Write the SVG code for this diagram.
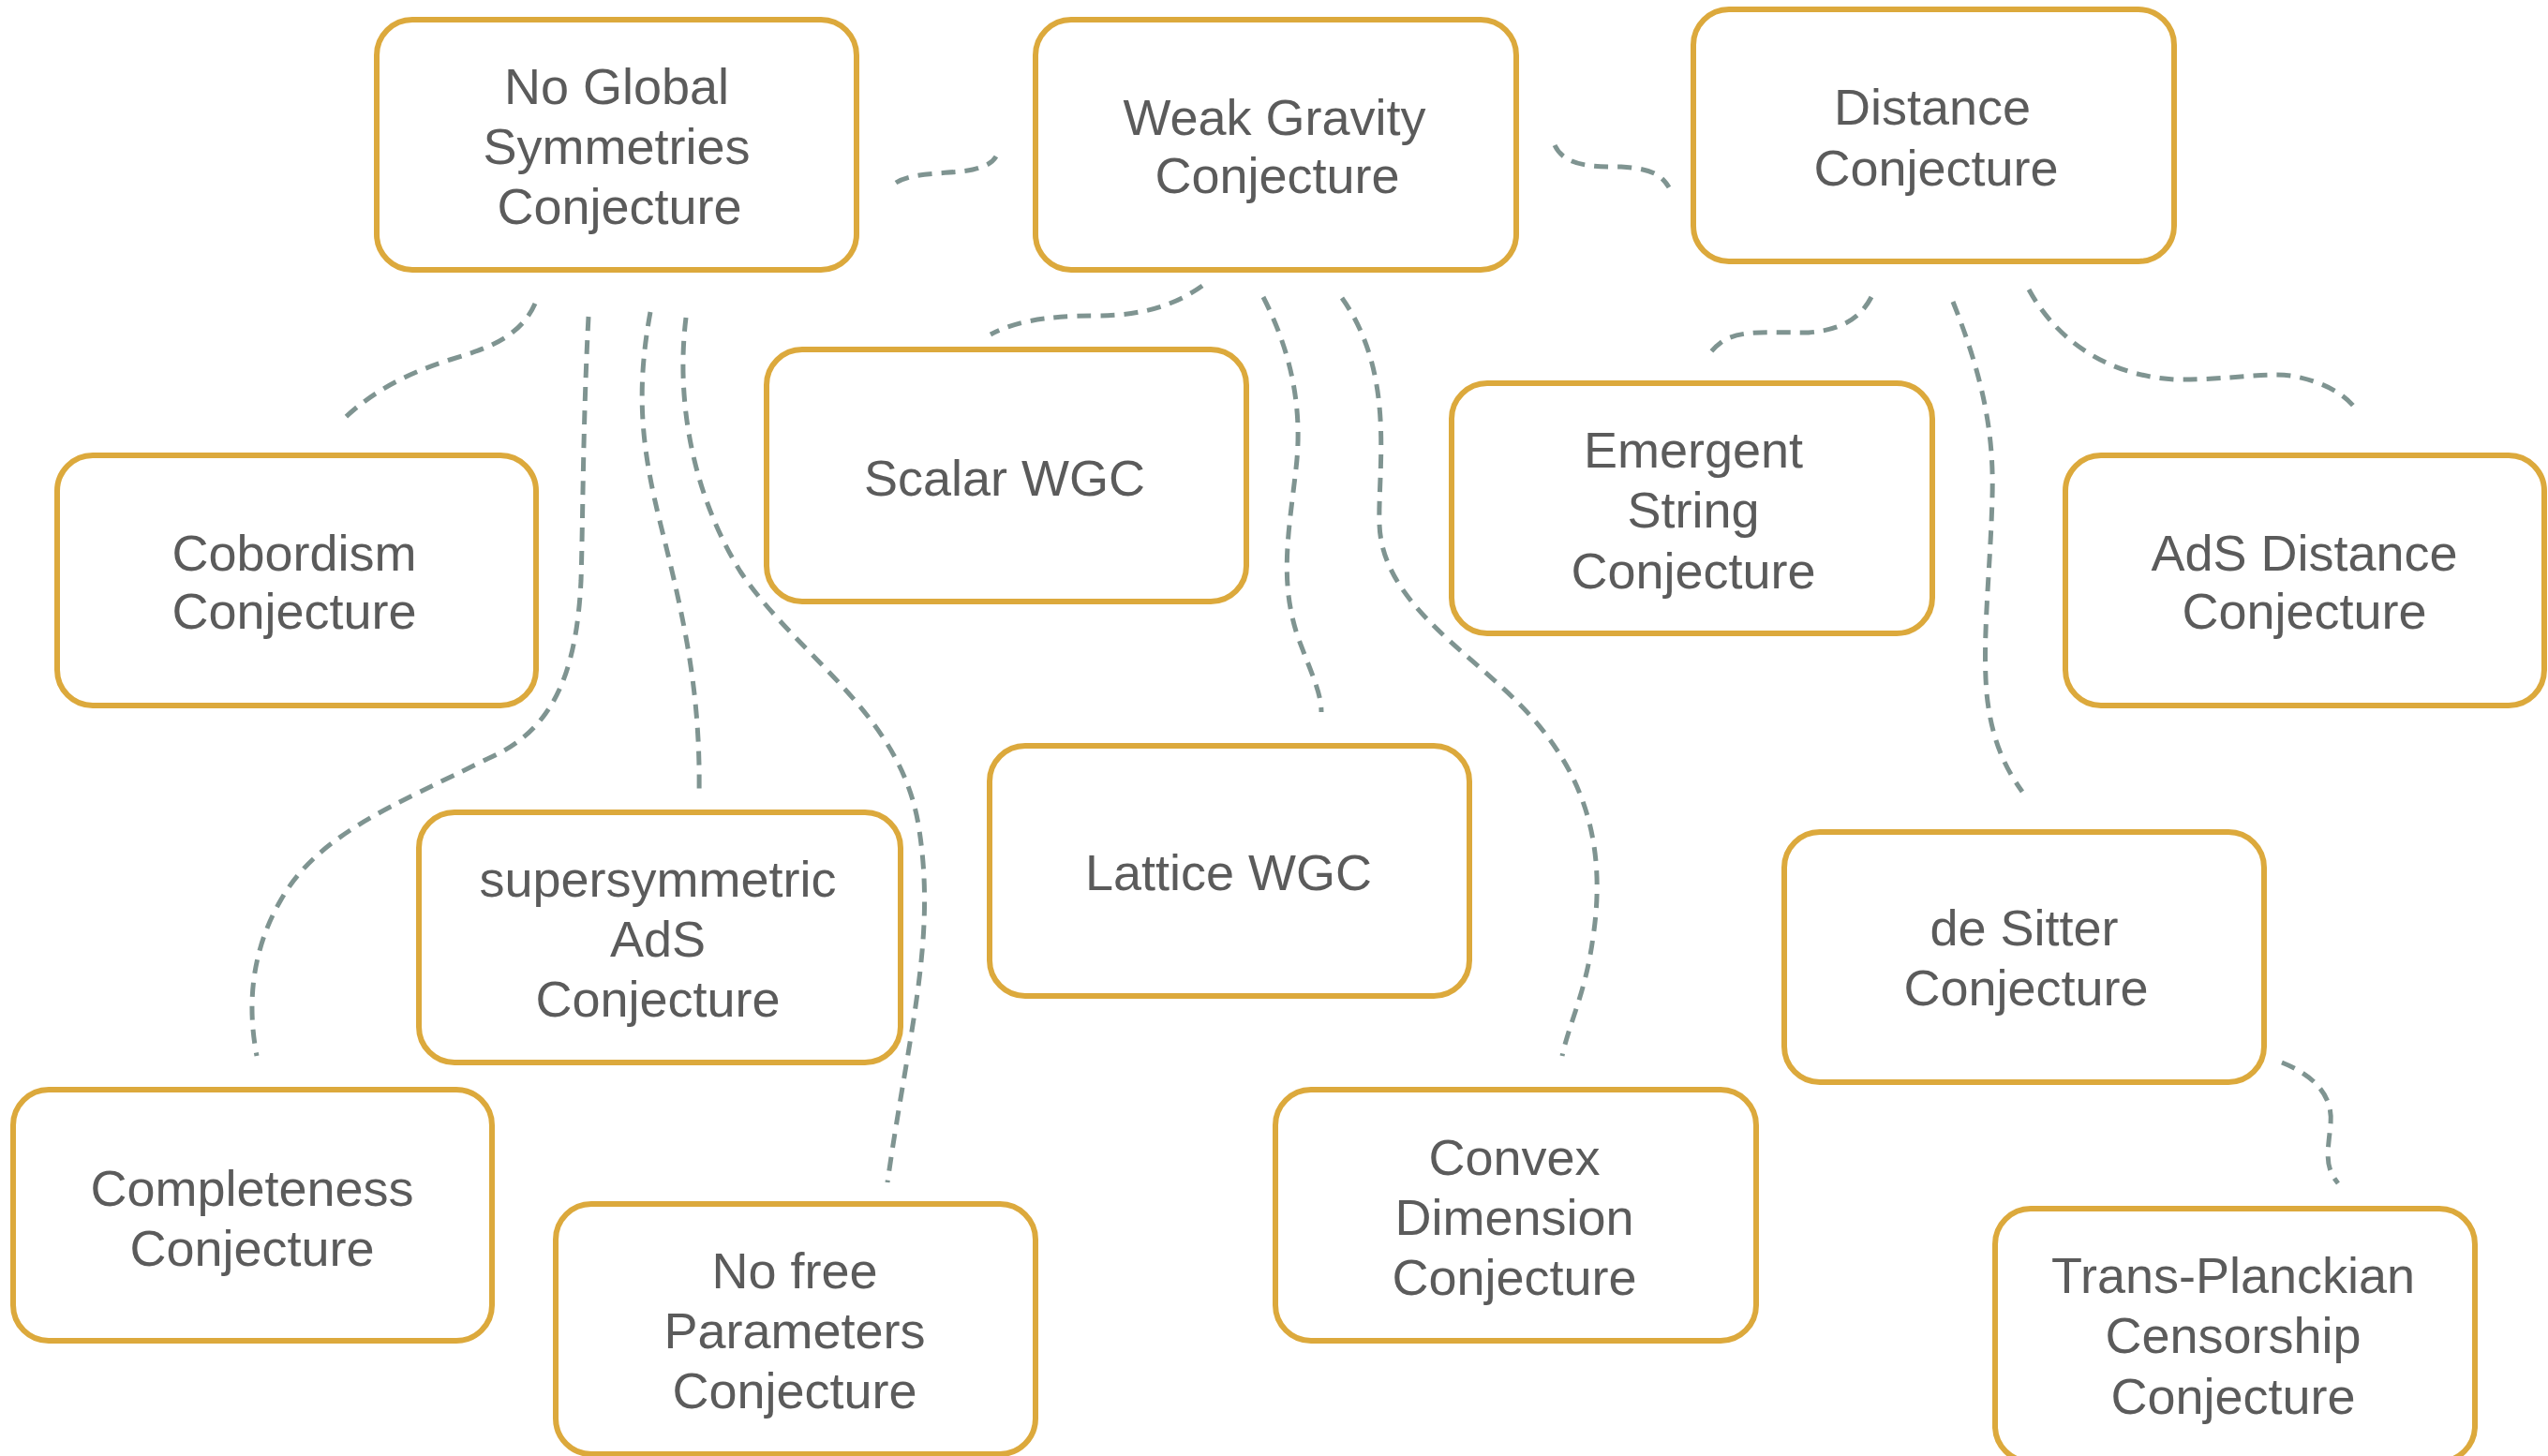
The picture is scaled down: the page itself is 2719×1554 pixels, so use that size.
<svg xmlns="http://www.w3.org/2000/svg" width="2719" height="1554" viewBox="0 0 2719 1554">
<style>
.box{fill:#ffffff;stroke:#DCA93C;stroke-width:6}
.t{font-family:"Liberation Sans",Arial,Helvetica,sans-serif;font-size:54px;fill:#5b5b5b;text-anchor:middle}
.c{fill:none;stroke:#7F9491;stroke-width:5;stroke-dasharray:15 10}
</style>
<rect width="2719" height="1554" fill="#ffffff"/>
<g id="connectors">
<path class="c" d="M956,195 C975,183 1015,186 1038,181 C1055,177 1060,172 1063,167"/>
<path class="c" d="M1659,155 C1670,178 1700,178 1730,178 C1760,180 1772,185 1781,200"/>
<path class="c" d="M571,324 C555,360 520,372 480,384 C430,400 395,420 367,447"/>
<path class="c" d="M628,338 C622,450 622,560 620,620 C615,720 590,780 520,810 C420,860 340,890 300,960 C265,1020 265,1080 274,1127"/>
<path class="c" d="M694,333 C678,420 685,480 705,560 C730,660 748,740 746,850"/>
<path class="c" d="M732,339 C722,420 735,520 790,610 C850,700 960,760 980,880 C1000,1000 970,1100 947,1262"/>
<path class="c" d="M1283,305 C1255,325 1220,337 1170,337 C1110,337 1080,345 1057,357"/>
<path class="c" d="M1348,317 C1380,380 1390,440 1383,500 C1375,570 1365,620 1385,680 C1400,720 1410,740 1410,760"/>
<path class="c" d="M1432,318 C1490,400 1470,500 1472,560 C1475,640 1560,690 1620,750 C1690,820 1715,900 1700,1000 C1692,1060 1675,1090 1667,1127"/>
<path class="c" d="M1997,317 C1985,340 1965,352 1930,355 C1890,355 1860,352 1840,363 C1830,370 1825,376 1821,382"/>
<path class="c" d="M2084,322 C2115,400 2128,460 2126,530 C2124,610 2115,680 2120,740 C2125,790 2140,820 2158,845"/>
<path class="c" d="M2165,309 C2190,355 2240,400 2320,405 C2380,406 2420,396 2450,402 C2480,408 2500,420 2512,434"/>
<path class="c" d="M2435,1134 C2470,1148 2490,1170 2487,1200 C2484,1230 2480,1245 2495,1263"/>
</g>
<g id="no-global">
<rect class="box" x="402" y="21" width="512" height="267" rx="38"/>
<text class="t" x="658" y="111">No Global</text>
<text class="t" x="658" y="175">Symmetries</text>
<text class="t" x="661" y="239">Conjecture</text>
</g>
<g id="weak-gravity">
<rect class="box" x="1105" y="21" width="513" height="267" rx="38"/>
<text class="t" x="1360" y="144">Weak Gravity</text>
<text class="t" x="1363" y="206">Conjecture</text>
</g>
<g id="distance">
<rect class="box" x="1807" y="10" width="513" height="269" rx="38"/>
<text class="t" x="2062" y="133">Distance</text>
<text class="t" x="2066" y="198">Conjecture</text>
</g>
<g id="cobordism">
<rect class="box" x="61" y="486" width="511" height="267" rx="38"/>
<text class="t" x="314" y="609">Cobordism</text>
<text class="t" x="314" y="671">Conjecture</text>
</g>
<g id="scalar-wgc">
<rect class="box" x="818" y="373" width="512" height="269" rx="38"/>
<text class="t" x="1072" y="529">Scalar WGC</text>
</g>
<g id="emergent-string">
<rect class="box" x="1549" y="409" width="513" height="267" rx="38"/>
<text class="t" x="1807" y="499">Emergent</text>
<text class="t" x="1807" y="563">String</text>
<text class="t" x="1807" y="628">Conjecture</text>
</g>
<g id="ads-distance">
<rect class="box" x="2204" y="486" width="511" height="267" rx="38"/>
<text class="t" x="2459" y="609">AdS Distance</text>
<text class="t" x="2459" y="671">Conjecture</text>
</g>
<g id="susy-ads">
<rect class="box" x="447" y="867" width="514" height="267" rx="38"/>
<text class="t" x="702" y="957">supersymmetric</text>
<text class="t" x="702" y="1021">AdS</text>
<text class="t" x="702" y="1085">Conjecture</text>
</g>
<g id="lattice-wgc">
<rect class="box" x="1056" y="796" width="512" height="267" rx="38"/>
<text class="t" x="1311" y="950">Lattice WGC</text>
</g>
<g id="de-sitter">
<rect class="box" x="1904" y="888" width="512" height="267" rx="38"/>
<text class="t" x="2160" y="1009">de Sitter</text>
<text class="t" x="2162" y="1073">Conjecture</text>
</g>
<g id="completeness">
<rect class="box" x="14" y="1163" width="511" height="268" rx="38"/>
<text class="t" x="269" y="1287">Completeness</text>
<text class="t" x="269" y="1351">Conjecture</text>
</g>
<g id="no-free-parameters">
<rect class="box" x="593" y="1285" width="512" height="267" rx="38"/>
<text class="t" x="848" y="1375">No free</text>
<text class="t" x="848" y="1439">Parameters</text>
<text class="t" x="848" y="1503">Conjecture</text>
</g>
<g id="convex-dimension">
<rect class="box" x="1361" y="1163" width="513" height="268" rx="38"/>
<text class="t" x="1616" y="1254">Convex</text>
<text class="t" x="1616" y="1318">Dimension</text>
<text class="t" x="1616" y="1382">Conjecture</text>
</g>
<g id="trans-planckian">
<rect class="box" x="2129" y="1290" width="512" height="270" rx="38"/>
<text class="t" x="2383" y="1380">Trans-Planckian</text>
<text class="t" x="2383" y="1444">Censorship</text>
<text class="t" x="2383" y="1509">Conjecture</text>
</g>
</svg>
